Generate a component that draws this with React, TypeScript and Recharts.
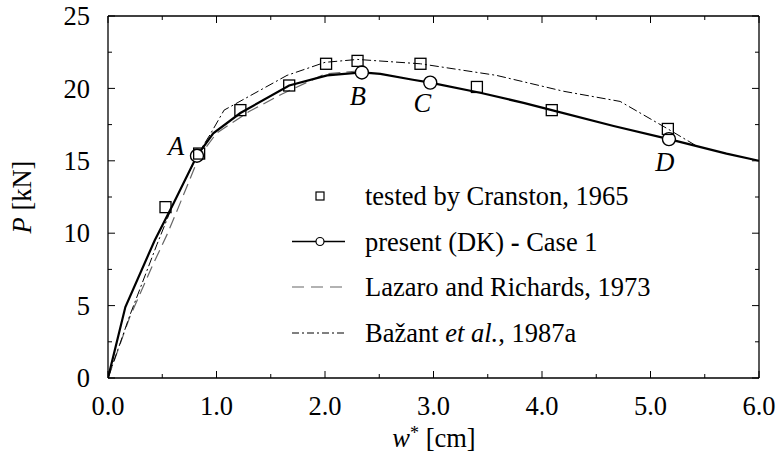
import React from 'react';
import {
  ComposedChart,
  Line,
  Scatter,
  XAxis,
  YAxis,
} from 'recharts';

// --- data (w* in cm, P in kN) ---
const PRESENT_X = [0, 0.16, 0.43, 0.6, 0.82, 0.97, 1.22, 1.67, 2.02, 2.34, 2.51, 2.81, 2.97, 3.43, 3.83, 4.09, 4.66, 5.17, 5.7, 6.0];
const PRESENT_Y = [0, 4.9, 9.5, 12.0, 15.35, 16.9, 18.3, 20.2, 20.9, 21.1, 21.0, 20.6, 20.4, 19.7, 19.0, 18.5, 17.4, 16.5, 15.5, 15.0];

const LAZARO_X = [0, 0.2, 0.4, 0.55, 0.65, 0.84, 1.0, 1.3, 1.6, 2.0, 2.3];
const LAZARO_Y = [0, 4.2, 7.6, 10.0, 11.8, 15.3, 16.9, 18.4, 19.6, 21.0, 21.2];

const BAZANT_X = [0, 0.2, 0.45, 0.6, 0.84, 0.94, 1.07, 1.65, 2.0, 2.3, 2.88, 3.58, 4.2, 4.72, 5.16, 5.43];
const BAZANT_Y = [0, 4.3, 9.2, 12.0, 15.6, 16.8, 18.5, 20.9, 21.8, 22.0, 21.7, 20.9, 19.8, 19.1, 17.2, 16.0];

const CRANSTON_X = [0.53, 0.84, 1.22, 1.67, 2.01, 2.3, 2.88, 3.4, 4.09, 5.16];
const CRANSTON_Y = [11.8, 15.5, 18.5, 20.2, 21.7, 21.9, 21.7, 20.1, 18.5, 17.2];

const POINT_NAMES = ['A', 'B', 'C', 'D'];
const POINT_X = [0.82, 2.34, 2.97, 5.17];
const POINT_Y = [15.35, 21.1, 20.4, 16.5];

const X_TICKS = [0, 0.5, 1, 1.5, 2, 2.5, 3, 3.5, 4, 4.5, 5, 5.5, 6];
const Y_TICKS = [0, 2.5, 5, 7.5, 10, 12.5, 15, 17.5, 20, 22.5, 25];

const zip = (xs: number[], ys: number[]) => xs.map((x, i) => ({ x, y: ys[i] }));

const presentData = zip(PRESENT_X, PRESENT_Y);
const lazaroData = zip(LAZARO_X, LAZARO_Y);
const bazantData = zip(BAZANT_X, BAZANT_Y);
const cranstonData = zip(CRANSTON_X, CRANSTON_Y);
const pointData = POINT_NAMES.map((name, i) => ({ name, x: POINT_X[i], y: POINT_Y[i] }));

// --- layout ---
const W = 778;
const H = 465;
const PLOT_LEFT = 108;
const PLOT_RIGHT = 759;
const PLOT_TOP = 16;
const PLOT_BOTTOM = 378;
// axes take 1px each, so the margins sit 1px outside the plot box
const MARGIN = { top: PLOT_TOP - 1, right: W - PLOT_RIGHT - 1, bottom: H - PLOT_BOTTOM - 1, left: PLOT_LEFT - 1 };

const FONT = "'Liberation Serif', 'Times New Roman', serif";
const FS = 26.5;

// letter offsets relative to the marker centre
const LETTER_OFFSET: Record<string, [number, number]> = {
  A: [-21, -10],
  B: [-4, 23],
  C: [-8, 20],
  D: [-4, 23],
};

const isMajor = (v: number) => Number.isInteger(v);

const BottomTick = (props: any) => {
  const { x, payload } = props;
  const v = payload.value;
  return (
    <g>
      <line x1={x} x2={x} y1={PLOT_BOTTOM} y2={PLOT_BOTTOM - (isMajor(v) ? 7 : 4)} stroke="#000" />
      {isMajor(v) && (
        <text x={x} y={415} textAnchor="middle" fontFamily={FONT} fontSize={FS} fill="#000">
          {v.toFixed(1)}
        </text>
      )}
    </g>
  );
};

const TopTick = (props: any) => {
  const { x, payload } = props;
  return (
    <line x1={x} x2={x} y1={PLOT_TOP} y2={PLOT_TOP + (isMajor(payload.value) ? 7 : 4)} stroke="#000" />
  );
};

const LeftTick = (props: any) => {
  const { y, payload } = props;
  const v = payload.value;
  const major = v % 5 === 0;
  return (
    <g>
      <line x1={PLOT_LEFT} x2={PLOT_LEFT + (major ? 7 : 4)} y1={y} y2={y} stroke="#000" />
      {major && (
        <text x={90} y={y} dy="0.35em" textAnchor="end" fontFamily={FONT} fontSize={FS} fill="#000">
          {v}
        </text>
      )}
    </g>
  );
};

const RightTick = (props: any) => {
  const { y, payload } = props;
  const major = payload.value % 5 === 0;
  return <line x1={PLOT_RIGHT} x2={PLOT_RIGHT - (major ? 7 : 4)} y1={y} y2={y} stroke="#000" />;
};

const SquareShape = (props: any) => {
  const { cx, cy } = props;
  return <rect x={cx - 5.5} y={cy - 5.5} width={11} height={11} fill="none" stroke="#000" strokeWidth={1.3} />;
};

const CircleShape = (props: any) => {
  const { cx, cy, payload } = props;
  const [dx, dy] = LETTER_OFFSET[payload.name];
  return (
    <g>
      <circle cx={cx} cy={cy} r={6.5} fill="#fff" stroke="#000" strokeWidth={1.4} />
      <text
        x={cx + dx}
        y={cy + dy}
        dy="0.35em"
        textAnchor="middle"
        fontFamily={FONT}
        fontStyle="italic"
        fontSize={FS}
        fill="#000"
      >
        {payload.name}
      </text>
    </g>
  );
};

function ChartLegend() {
  const rows = [196, 241.5, 287, 333];
  const x0 = 292;
  const x1 = 345;
  const tx = 365;
  const textProps = { fontFamily: FONT, fontSize: FS, fill: '#000', dy: '0.35em' };
  return (
    <svg
      width={W}
      height={H}
      style={{ position: 'absolute', left: 0, top: 0, pointerEvents: 'none' }}
    >
      <rect x={316} y={rows[0] - 4} width={8} height={8} fill="none" stroke="#000" strokeWidth={1.2} />
      <text x={tx} y={rows[0]} {...textProps}>tested by Cranston, 1965</text>

      <line x1={x0} x2={x1} y1={rows[1]} y2={rows[1]} stroke="#000" strokeWidth={1.5} />
      <circle cx={320} cy={rows[1]} r={4} fill="#fff" stroke="#000" strokeWidth={1.2} />
      <text x={tx} y={rows[1]} {...textProps}>
        present (DK) <tspan fontWeight="bold">-</tspan> Case 1
      </text>

      <line x1={x0} x2={x1} y1={rows[2]} y2={rows[2]} stroke="#666" strokeWidth={1.2} strokeDasharray="12 7" />
      <text x={tx} y={rows[2]} {...textProps}>Lazaro and Richards, 1973</text>

      <line x1={x0} x2={x1} y1={rows[3]} y2={rows[3]} stroke="#000" strokeWidth={1} strokeDasharray="7 3 2 3" />
      <text x={tx} y={rows[3]} {...textProps}>
        Bažant <tspan fontStyle="italic">et al.</tspan>, 1987a
      </text>

      {/* axis titles */}
      <text x={434} y={447} textAnchor="middle" fontFamily={FONT} fontSize={FS} fill="#000">
        <tspan fontStyle="italic">w</tspan>
        <tspan dy={-8} fontSize={18}>*</tspan>
        <tspan dy={8}> [cm]</tspan>
      </text>
      <text
        x={0}
        y={0}
        transform={`translate(22, ${(PLOT_TOP + PLOT_BOTTOM) / 2}) rotate(-90)`}
        textAnchor="middle"
        dy="0.35em"
        fontFamily={FONT}
        fontSize={FS}
        fill="#000"
      >
        <tspan fontStyle="italic">P</tspan>  [kN]
      </text>
    </svg>
  );
}

export default function App() {
  return (
    <div style={{ position: 'absolute', left: 0, top: 0, width: W, height: H, background: '#fff' }}>
      <ComposedChart width={W} height={H} margin={MARGIN}>
        <XAxis
          type="number"
          dataKey="x"
          domain={[0, 6]}
          ticks={X_TICKS}
          interval={0}
          height={1}
          allowDataOverflow
          axisLine={{ stroke: '#000', strokeWidth: 1.3 }}
          tickLine={false}
          tick={<BottomTick />}
        />
        <XAxis
          xAxisId="top"
          orientation="top"
          type="number"
          dataKey="x"
          domain={[0, 6]}
          ticks={X_TICKS}
          interval={0}
          height={1}
          allowDataOverflow
          axisLine={{ stroke: '#000', strokeWidth: 1.3 }}
          tickLine={false}
          tick={<TopTick />}
        />
        <YAxis
          type="number"
          dataKey="y"
          domain={[0, 25]}
          ticks={Y_TICKS}
          interval={0}
          width={1}
          allowDataOverflow
          axisLine={{ stroke: '#000', strokeWidth: 1.3 }}
          tickLine={false}
          tick={<LeftTick />}
        />
        <YAxis
          yAxisId="right"
          orientation="right"
          type="number"
          dataKey="y"
          domain={[0, 25]}
          ticks={Y_TICKS}
          interval={0}
          width={1}
          allowDataOverflow
          axisLine={{ stroke: '#000', strokeWidth: 1.3 }}
          tickLine={false}
          tick={<RightTick />}
        />
        <Line
          data={lazaroData}
          dataKey="y"
          type="linear"
          stroke="#666"
          strokeWidth={1.2}
          strokeDasharray="12 6"
          dot={false}
          isAnimationActive={false}
        />
        <Line
          data={bazantData}
          dataKey="y"
          type="linear"
          stroke="#000"
          strokeWidth={1}
          strokeDasharray="9 3 2 3"
          dot={false}
          isAnimationActive={false}
        />
        <Line
          data={presentData}
          dataKey="y"
          type="linear"
          stroke="#000"
          strokeWidth={2.2}
          dot={false}
          isAnimationActive={false}
        />
        <Scatter data={pointData} dataKey="y" shape={<CircleShape />} isAnimationActive={false} />
        <Scatter data={cranstonData} dataKey="y" shape={<SquareShape />} isAnimationActive={false} />
      </ComposedChart>
      <ChartLegend />
    </div>
  );
}
